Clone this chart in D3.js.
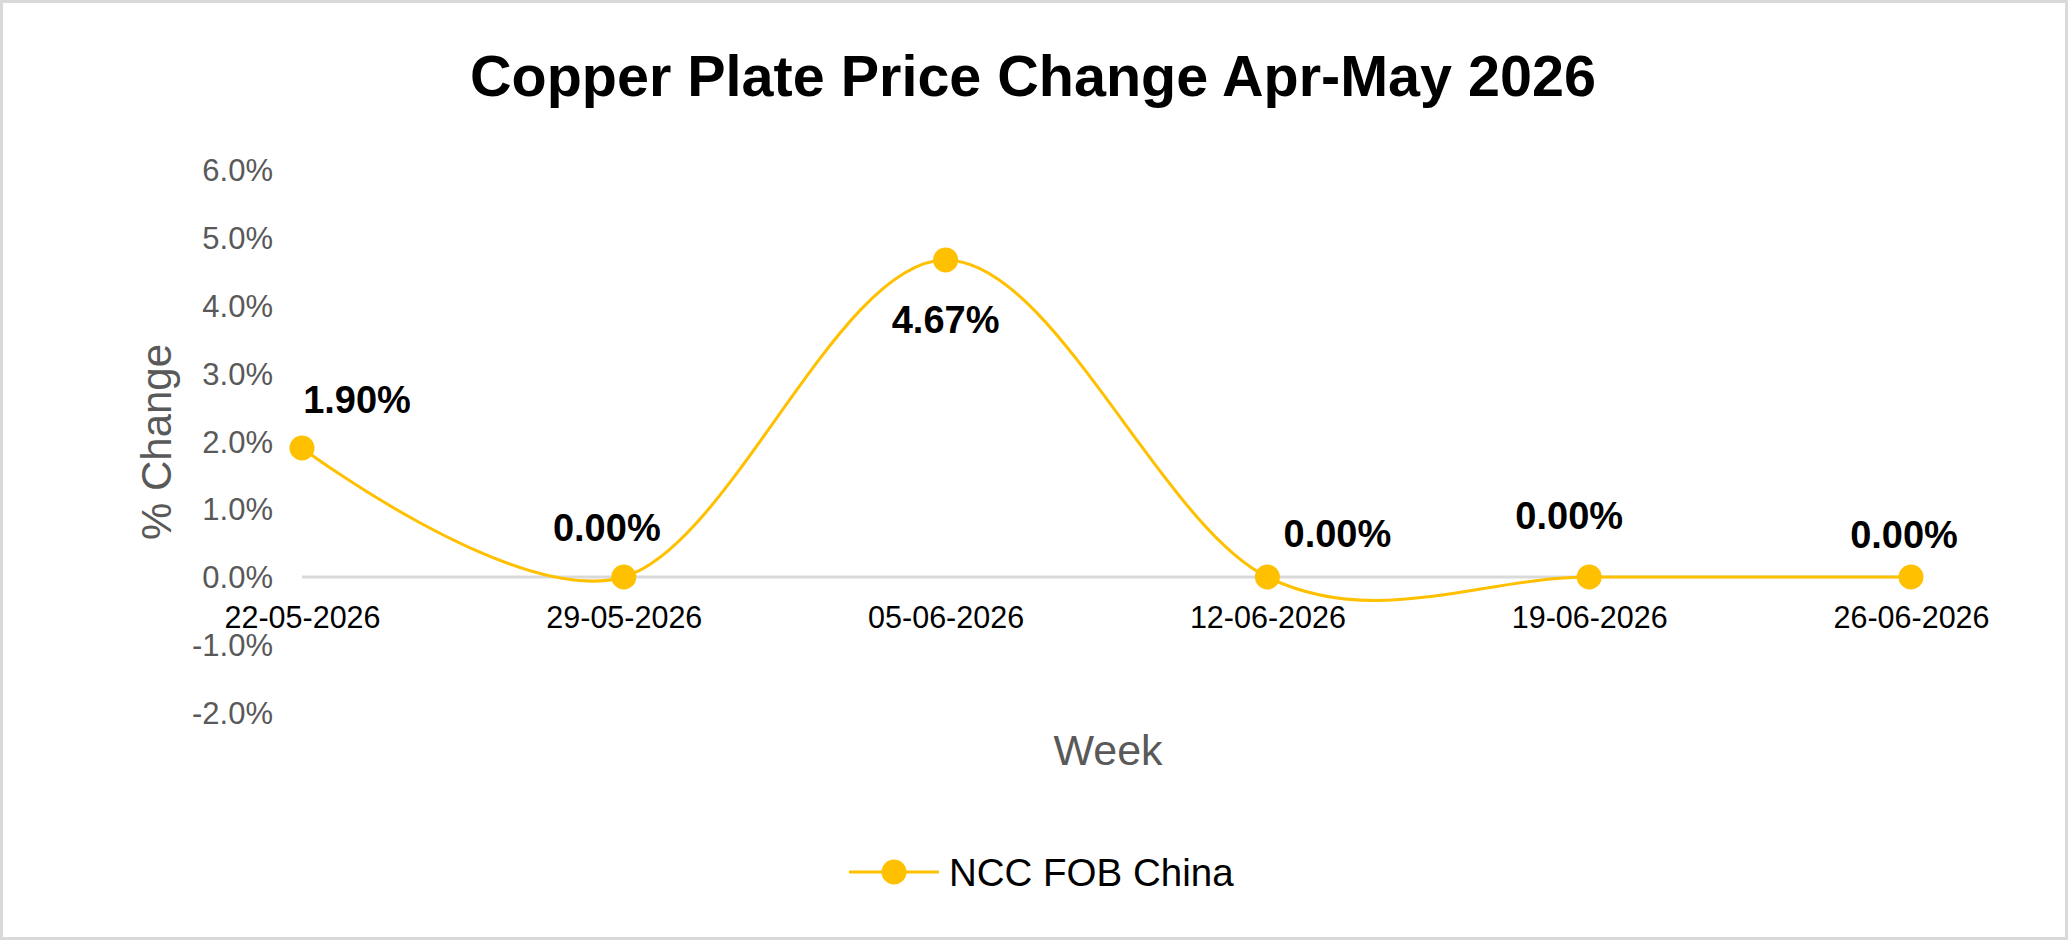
<!DOCTYPE html>
<html>
<head>
<meta charset="utf-8">
<script src="https://cdn.jsdelivr.net/npm/d3@7/dist/d3.min.js"></script>
<style>
  html, body { margin: 0; padding: 0; background: #fff; }
  svg { display: block; }
  text { font-family: "Liberation Sans", Arial, sans-serif; }
</style>
</head>
<body>
<svg id="chart" width="2068" height="940"></svg>
<script>
// ---- data ----
const weeks = ["22-05-2026", "29-05-2026", "05-06-2026", "12-06-2026", "19-06-2026", "26-06-2026"];
const seriesName = "NCC FOB China";
const values = [1.90, 0.00, 4.67, 0.00, 0.00, 0.00];
const yTicks = [-2, -1, 0, 1, 2, 3, 4, 5, 6];
const chartTitle = "Copper Plate Price Change Apr-May 2026";
const xTitle = "Week";
const yTitle = "% Change";

// label placement (style, not data): offsets from point in px
const labelOffsets = [[55, -48], [-17, -49], [0, 60], [70, -43], [-20, -61], [-7, -42]];

const W = 2068, H = 940;
const svg = d3.select("#chart");
const gold = "#FFC000";

svg.append("rect").attr("x", 1.5).attr("y", 1.5).attr("width", W - 3).attr("height", H - 3)
  .attr("fill", "#fff").attr("stroke", "#d9d9d9").attr("stroke-width", 3);

const x = d3.scalePoint().domain(weeks).range([302, 1911]);
const y = d3.scaleLinear().domain([-2, 6]).range([712.8, 169.6]);

// title
svg.append("text").attr("x", W / 2 - 1).attr("y", 76).attr("text-anchor", "middle")
  .attr("dominant-baseline", "central").attr("font-weight", "bold").attr("font-size", 57.5)
  .attr("fill", "#000").text(chartTitle);

// y axis labels
const yAxis = d3.axisLeft(y).tickValues(yTicks).tickSize(0).tickPadding(0)
  .tickFormat(d => d.toFixed(1) + "%");
const gy = svg.append("g").attr("transform", "translate(273,0)").call(yAxis);
gy.select(".domain").remove();
gy.selectAll("text").attr("font-size", 31).attr("fill", "#595959")
  .attr("font-family", "Liberation Sans, Arial, sans-serif").attr("dy", "0.35em");

// zero line (horizontal axis)
svg.append("line").attr("x1", x.range()[0]).attr("x2", x.range()[1])
  .attr("y1", y(0)).attr("y2", y(0)).attr("stroke", "#d9d9d9").attr("stroke-width", 3);

// x axis labels
const xAxis = d3.axisBottom(x).tickSize(0).tickPadding(0);
const gx = svg.append("g").attr("transform", `translate(0,${y(0)})`).call(xAxis);
gx.select(".domain").remove();
gx.selectAll("text").attr("font-size", 30.5).attr("fill", "#000")
  .attr("font-family", "Liberation Sans, Arial, sans-serif").attr("dy", "1.66em");

// axis titles
svg.append("text").attr("x", 1108).attr("y", 750).attr("text-anchor", "middle")
  .attr("dominant-baseline", "central").attr("font-size", 43).attr("fill", "#595959").text(xTitle);
svg.append("text").attr("transform", `translate(156,442) rotate(-90)`).attr("text-anchor", "middle")
  .attr("dominant-baseline", "central").attr("font-size", 42).attr("fill", "#595959").text(yTitle);

// line
const pts = weeks.map((w, i) => [x(w), y(values[i])]);
const line = d3.line().curve(d3.curveCardinal.tension(0));
svg.append("path").attr("d", line(pts)).attr("fill", "none").attr("stroke", gold).attr("stroke-width", 3);

svg.selectAll("circle.pt").data(pts).join("circle").attr("class", "pt")
  .attr("cx", d => d[0]).attr("cy", d => d[1]).attr("r", 12.5).attr("fill", gold);

// data labels
svg.selectAll("text.lbl").data(values).join("text").attr("class", "lbl")
  .attr("x", (d, i) => pts[i][0] + labelOffsets[i][0])
  .attr("y", (d, i) => pts[i][1] + labelOffsets[i][1])
  .attr("text-anchor", "middle").attr("dominant-baseline", "central")
  .attr("font-weight", "bold").attr("font-size", 38).attr("fill", "#000")
  .text(d => d.toFixed(2) + "%");

// legend
const lg = svg.append("g");
lg.append("line").attr("x1", 849).attr("x2", 939).attr("y1", 872).attr("y2", 872)
  .attr("stroke", gold).attr("stroke-width", 3);
lg.append("circle").attr("cx", 894).attr("cy", 872).attr("r", 12.5).attr("fill", gold);
lg.append("text").attr("x", 949).attr("y", 872).attr("dominant-baseline", "central")
  .attr("font-size", 38.5).attr("fill", "#000").text(seriesName);
</script>
</body>
</html>
